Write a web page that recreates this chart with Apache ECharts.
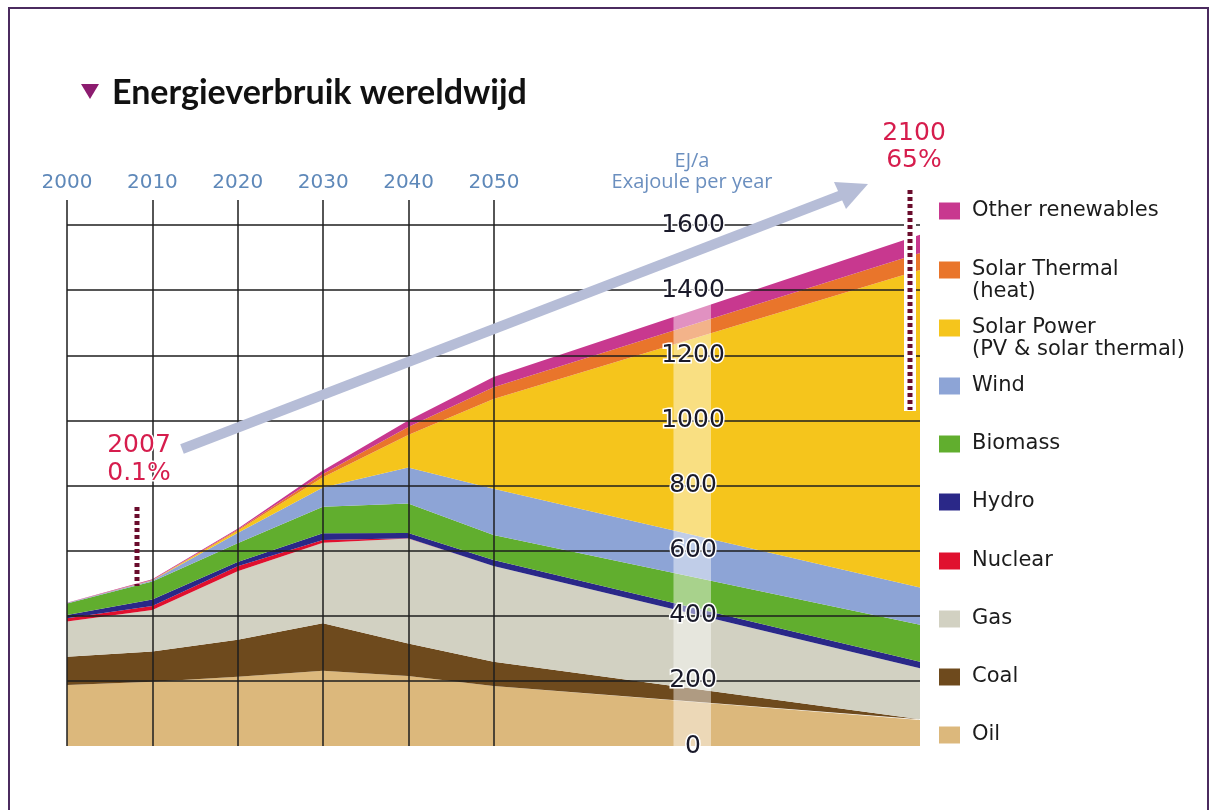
<!DOCTYPE html>
<html><head><meta charset="utf-8">
<script src="https://cdn.jsdelivr.net/npm/echarts@6/dist/echarts.min.js"></script>
<style>html,body{margin:0;padding:0;background:#fff}#c{width:1211px;height:810px}</style>
</head><body><div id="c"></div>
<script>
// ---- data (EJ per year) ----
const years = [2000, 2010, 2020, 2030, 2040, 2050, 2100];
const oil = [187, 197, 213, 231, 215, 184, 80];
const coal = [87, 93, 113, 146, 100, 75, 2];
const gas = [108, 128, 211, 247, 322, 294, 157];
const nuclear = [10, 12, 15, 9, 1, 0, 0];
const hydro = [10, 20, 13, 20, 16, 18, 20];
const biomass = [36, 55, 58, 82, 91, 77, 113];
const wind = [1, 3, 31, 59, 110, 142, 115];
const solarPower = [0, 1, 7, 31, 100, 276, 975];
const solarThermal = [0, 1, 3, 10, 25, 36, 52];
const otherRenewables = [1, 2, 3, 11, 20, 31, 56];
const yearTicks = [2000, 2010, 2020, 2030, 2040, 2050];
const valueTicks = [0, 200, 400, 600, 800, 1000, 1200, 1400, 1600];

const seriesDefs = [
  {name: 'Oil', data: oil, color: '#dcb87c'},
  {name: 'Coal', data: coal, color: '#6e4a1d'},
  {name: 'Gas', data: gas, color: '#d2d1c2'},
  {name: 'Nuclear', data: nuclear, color: '#e0102e'},
  {name: 'Hydro', data: hydro, color: '#2a2888'},
  {name: 'Biomass', data: biomass, color: '#61ae2e'},
  {name: 'Wind', data: wind, color: '#8da4d6'},
  {name: 'Solar Power\n(PV & solar thermal)', data: solarPower, color: '#f5c51c'},
  {name: 'Solar Thermal\n(heat)', data: solarThermal, color: '#e9752b'},
  {name: 'Other renewables', data: otherRenewables, color: '#c8388f'}
];

const chart = echarts.init(document.getElementById('c'));

const legendCenters = [211, 270, 328, 386, 444, 502, 561, 619, 677, 735];
const legendOrder = seriesDefs.slice().reverse();
const legends = legendOrder.map((s, i) => {
  const two = s.name.indexOf('\n') >= 0;
  return {
    data: [s.name], orient: 'vertical', left: 939, top: legendCenters[i] - (two ? 33 : 11),
    padding: 0, itemWidth: 21, itemHeight: 17, icon: 'rect', selectedMode: false,
    formatter: two ? (n => '\n' + n) : (n => n),
    textStyle: {fontFamily: 'DejaVu Sans', fontSize: 21, color: '#1c1c1c', lineHeight: 22,
      padding: [0, 0, 0, 7]}
  };
});

// data rows are [value, year] so that stacking applies to the value dimension
const series = seriesDefs.map((s) => ({
  name: s.name, type: 'line', stack: 'total', xAxisIndex: 0, yAxisIndex: 0,
  symbol: 'none', showSymbol: false, smooth: false,
  encode: {x: 1, y: 0},
  lineStyle: {width: 0}, itemStyle: {color: s.color},
  areaStyle: {color: s.color, opacity: 1},
  data: years.map((y, i) => [s.data[i], y]),
  z: 2
}));
series[series.length - 1].markArea = {
  silent: true, z: 3,
  itemStyle: {color: 'rgba(255,255,255,0.45)'},
  data: [[{coord: [2071.1, 0]}, {coord: [2075.5, 1600]}]]
};

const red = '#d61d4d';
chart.setOption({
  animation: false,
  backgroundColor: '#fff',
  grid: [
    {left: 67, right: 291, top: 225, bottom: 64},
    {left: 67, right: 717, top: 200, bottom: 64}
  ],
  xAxis: [
    {type: 'value', gridIndex: 0, min: 2000, max: 2100, show: false},
    {type: 'value', gridIndex: 1, min: yearTicks[0], max: yearTicks[yearTicks.length - 1], interval: 10,
      position: 'top', z: 5,
      axisLine: {show: false}, axisTick: {show: false},
      axisLabel: {color: '#5e88b9', fontFamily: 'DejaVu Sans', fontSize: 20, margin: 7, formatter: v => String(v)},
      splitLine: {show: true, lineStyle: {color: '#1e1e1e', width: 1.5}}}
  ],
  yAxis: [
    {type: 'value', gridIndex: 0, min: valueTicks[0], max: valueTicks[valueTicks.length - 1], interval: 200,
      position: 'left', offset: -626, z: 5,
      axisLine: {show: false}, axisTick: {show: false},
      axisLabel: {align: 'center', margin: 0, color: '#1a1a2a', fontFamily: 'DejaVu Sans', fontSize: 25,
        textBorderColor: '#fff', textBorderWidth: 3, formatter: v => String(v)},
      splitLine: {show: true, showMinLine: false, lineStyle: {color: '#1e1e1e', width: 1.5}}},
    {type: 'value', gridIndex: 1, min: 0, max: 1, show: false}
  ],
  legend: legends,
  series: series,
  graphic: [
    {type: 'rect', shape: {x: 9, y: 8, width: 1199, height: 830}, style: {fill: 'none', stroke: '#4b2b5f', lineWidth: 2}, z: 20},
    {type: 'polygon', shape: {points: [[81, 84], [99, 84], [90, 99]]}, style: {fill: '#8c1c6f'}, z: 20},
    {type: 'text', x: 112, y: 93, style: {text: 'Energieverbruik wereldwijd', fill: '#111', font: 'bold 34px Lato', verticalAlign: 'middle'}, z: 20},
    {type: 'text', x: 692, y: 161, style: {text: 'EJ/a', fill: '#6b8fbf', font: '20px "Open Sans"', align: 'center', verticalAlign: 'middle'}, z: 20},
    {type: 'text', x: 692, y: 182, style: {text: 'Exajoule per year', fill: '#6b8fbf', font: '20px "Open Sans"', align: 'center', verticalAlign: 'middle'}, z: 20},
    {type: 'line', shape: {x1: 182, y1: 449, x2: 842, y2: 195}, style: {stroke: '#b6bdd7', lineWidth: 10}, z: 15},
    {type: 'polygon', shape: {points: [[868, 184], [834, 182], [846, 209]]}, style: {fill: '#b6bdd7'}, z: 15},
    {type: 'line', shape: {x1: 137, y1: 507, x2: 137, y2: 586}, style: {stroke: '#6a0c2c', lineWidth: 5, lineDash: [4, 3]}, z: 16},
    {type: 'line', shape: {x1: 910, y1: 188, x2: 910, y2: 411}, style: {stroke: '#fff', lineWidth: 12}, z: 16},
    {type: 'line', shape: {x1: 910, y1: 190, x2: 910, y2: 410}, style: {stroke: '#6a0c2c', lineWidth: 5, lineDash: [4, 3]}, z: 17},
    {type: 'text', x: 139, y: 445, style: {text: '2007', fill: red, font: '25px "DejaVu Sans"', align: 'center', verticalAlign: 'middle', stroke: '#fff', lineWidth: 3}, z: 18},
    {type: 'text', x: 139, y: 473, style: {text: '0.1%', fill: red, font: '25px "DejaVu Sans"', align: 'center', verticalAlign: 'middle', stroke: '#fff', lineWidth: 3}, z: 18},
    {type: 'text', x: 914, y: 133, style: {text: '2100', fill: red, font: '25px "DejaVu Sans"', align: 'center', verticalAlign: 'middle'}, z: 18},
    {type: 'text', x: 914, y: 160, style: {text: '65%', fill: red, font: '25px "DejaVu Sans"', align: 'center', verticalAlign: 'middle'}, z: 18}
  ]
});
</script>
</body></html>
